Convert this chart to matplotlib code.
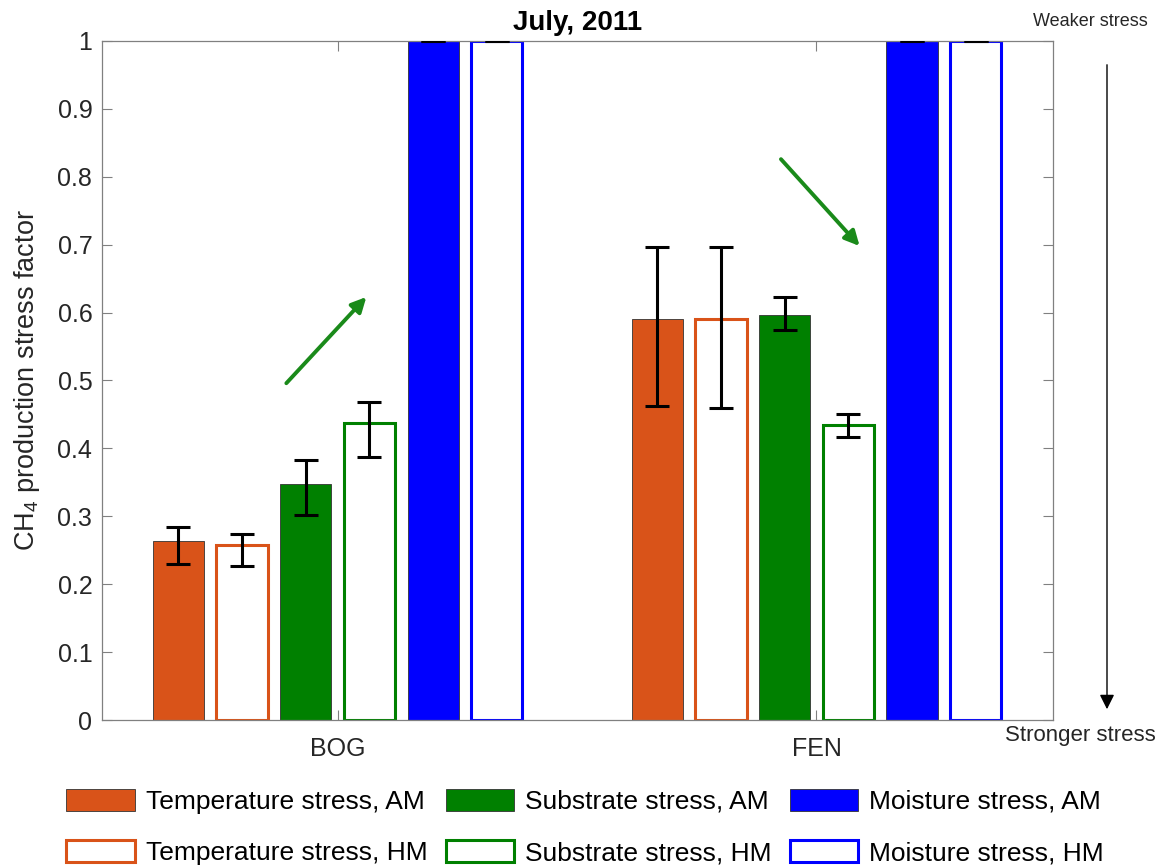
import matplotlib
matplotlib.use("Agg")
import matplotlib.pyplot as plt
import numpy as np

plt.rcParams['font.family'] = ['Liberation Sans', 'DejaVu Sans']
plt.rcParams['mathtext.default'] = 'regular'

sites = ['BOG', 'FEN']
labels = ['Temperature stress, AM', 'Temperature stress, HM',
          'Substrate stress, AM', 'Substrate stress, HM',
          'Moisture stress, AM', 'Moisture stress, HM']
# one list per series: value for BOG, FEN
temp_am = [0.263, 0.590]
temp_hm = [0.257, 0.590]
sub_am = [0.347, 0.596]
sub_hm = [0.438, 0.434]
moist_am = [1.0, 1.0]
moist_hm = [1.0, 1.0]
# error bars below / above each value
temp_am_lo = [0.033, 0.128]
temp_am_hi = [0.021, 0.107]
temp_hm_lo = [0.030, 0.130]
temp_hm_hi = [0.017, 0.106]
sub_am_lo = [0.045, 0.021]
sub_am_hi = [0.036, 0.027]
sub_hm_lo = [0.051, 0.017]
sub_hm_hi = [0.030, 0.016]
moist_am_lo = [0.0, 0.0]
moist_am_hi = [0.0, 0.0]
moist_hm_lo = [0.0, 0.0]
moist_hm_hi = [0.0, 0.0]

series = [temp_am, temp_hm, sub_am, sub_hm, moist_am, moist_hm]
err_lo = [temp_am_lo, temp_hm_lo, sub_am_lo, sub_hm_lo, moist_am_lo, moist_hm_lo]
err_hi = [temp_am_hi, temp_hm_hi, sub_am_hi, sub_hm_hi, moist_am_hi, moist_hm_hi]
colors = ['#D95319', '#D95319', '#008000', '#008000', '#0000FF', '#0000FF']
filled = [True, False, True, False, True, False]

fig = plt.figure(figsize=(11.61, 8.67), dpi=100)
ax = fig.add_axes([102/1161, 1-720/867, (1053-102)/1161, (720-41)/867])

x = np.arange(1, len(sites)+1)
step = 0.133
width = 0.107
for i, vals in enumerate(series):
    xs = x + (i - 2.5)*step
    if filled[i]:
        ax.bar(xs, vals, width, color=colors[i], edgecolor='#333333',
               linewidth=0.6, label=labels[i], zorder=2)
    else:
        ax.bar(xs, vals, width, color='white', edgecolor=colors[i],
               linewidth=2.2, label=labels[i], zorder=2)
    ax.errorbar(xs, vals, yerr=[err_lo[i], err_hi[i]], fmt='none', ecolor='black',
                elinewidth=2.2, capsize=8.4, capthick=2.2, zorder=3)

ax.set_xlim(0.508, 2.494)
ax.set_ylim(0, 1)
ax.set_xticks(x)
ax.set_xticklabels(sites)
ax.set_yticks(np.arange(0, 1.01, 0.1))
ax.set_yticklabels(['0', '0.1', '0.2', '0.3', '0.4', '0.5', '0.6', '0.7', '0.8', '0.9', '1'])
ax.tick_params(direction='in', top=True, right=True, labelsize=18,
               length=7, color='0.5', labelcolor='#262626')
ax.tick_params(axis='y', pad=7)
ax.tick_params(axis='x', pad=12)
for s in ax.spines.values():
    s.set_color('0.5')
    s.set_linewidth(0.9)

ax.set_title('July, 2011', fontsize=20, fontweight='bold', pad=8)
ax.set_ylabel('CH$_4$ production stress factor', fontsize=19.5, labelpad=11,
              color='#262626')

# trend arrows
ax.annotate('', xy=(1.064, 0.626), xytext=(0.889, 0.493),
            arrowprops=dict(arrowstyle='-|>', color='#1a8a1a', lw=2.8,
                            mutation_scale=22))
ax.annotate('', xy=(2.094, 0.695), xytext=(1.922, 0.829),
            arrowprops=dict(arrowstyle='-|>', color='#1a8a1a', lw=2.8,
                            mutation_scale=22))

# stress direction on the right
fig.text(1090/1161, 1-21/867, 'Weaker stress', fontsize=13, ha='center', va='center',
         color='#262626')
fig.text(1080/1161, 1-736/867, 'Stronger stress', fontsize=16, ha='center', va='center',
         color='#262626')
fig.add_artist(matplotlib.patches.FancyArrowPatch(
    (1107/1161, 1-62/867), (1107/1161, 1-712/867), transform=fig.transFigure,
    arrowstyle='-|>', mutation_scale=22, color='black', lw=1.0))

fig.legend(loc='center', bbox_to_anchor=(585/1161, 1-827/867), ncol=3,
           frameon=False, fontsize=19, handlelength=2.6, handleheight=0.9,
           columnspacing=0.7, handletextpad=0.4, labelspacing=1.0)

fig.savefig('out.png', dpi=100)
